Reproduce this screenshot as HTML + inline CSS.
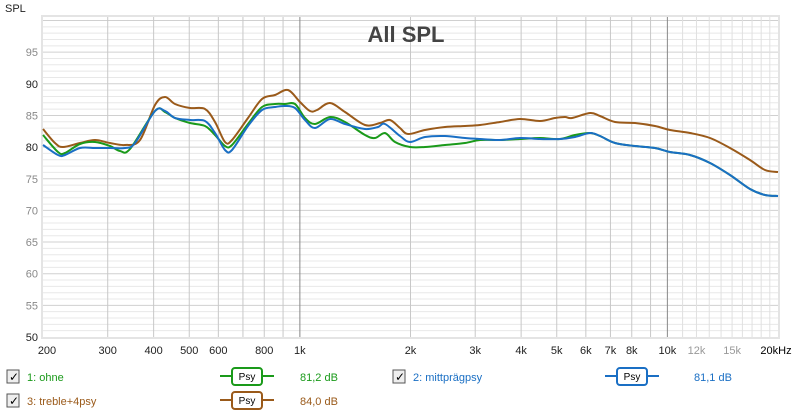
<!DOCTYPE html>
<html><head><meta charset="utf-8"><style>
body{margin:0;background:#fff;width:800px;height:415px;overflow:hidden;font-family:"Liberation Sans",sans-serif}
</style></head><body>
<svg id="s" width="800" height="415" xmlns="http://www.w3.org/2000/svg" font-family="Liberation Sans, sans-serif">
<rect x="0" y="0" width="800" height="415" fill="#fff"/>
<rect x="41" y="15" width="739" height="324" fill="#e4e4e4"/>
<rect x="43" y="17" width="735" height="320" fill="#fff"/>
<g id="grid"></g>
<text x="406" y="42" font-size="22" font-weight="bold" fill="#444" text-anchor="middle">All SPL</text>
<text x="5" y="12" font-size="11" fill="#222">SPL</text>
<g id="ylab" font-size="11" text-anchor="end"></g>
<g id="xlab" font-size="11" text-anchor="middle"></g>
<g id="curves" fill="none" stroke-width="2"></g>
<!-- legend -->
<g font-size="11">
<rect x="7" y="370" width="12" height="13" fill="#eee" stroke="#555"/><text x="9" y="381" font-size="12">✓</text>
<text x="27" y="381" fill="#1a9a1a">1: ohne</text>
<line x1="220" y1="376" x2="274" y2="376" stroke="#1a9a1a" stroke-width="2"/>
<rect x="232" y="368" width="30" height="17" rx="3" fill="#fff" stroke="#1a9a1a" stroke-width="2"/>
<text x="247" y="380" text-anchor="middle" font-size="10">Psy</text>
<text x="300" y="381" fill="#1a9a1a">81,2 dB</text>
<rect x="393" y="370" width="12" height="13" fill="#eee" stroke="#555"/><text x="395" y="381" font-size="12">✓</text>
<text x="413" y="381" fill="#1a6fc4">2: mittprägpsy</text>
<line x1="605" y1="376" x2="659" y2="376" stroke="#1a6fc4" stroke-width="2"/>
<rect x="617" y="368" width="30" height="17" rx="3" fill="#fff" stroke="#1a6fc4" stroke-width="2"/>
<text x="632" y="380" text-anchor="middle" font-size="10">Psy</text>
<text x="694" y="381" fill="#1a6fc4">81,1 dB</text>
<rect x="7" y="394" width="12" height="13" fill="#eee" stroke="#555"/><text x="9" y="405" font-size="12">✓</text>
<text x="27" y="405" fill="#9a5a1a">3: treble+4psy</text>
<line x1="220" y1="400" x2="274" y2="400" stroke="#9a5a1a" stroke-width="2"/>
<rect x="232" y="392" width="30" height="17" rx="3" fill="#fff" stroke="#9a5a1a" stroke-width="2"/>
<text x="247" y="404" text-anchor="middle" font-size="10">Psy</text>
<text x="300" y="405" fill="#9a5a1a">84,0 dB</text>
</g>
</svg>
<script>
var NS="http://www.w3.org/2000/svg";
function el(p,t,a,txt){var e=document.createElementNS(NS,t);for(var k in a)e.setAttribute(k,a[k]);if(txt)e.textContent=txt;document.getElementById(p).appendChild(e);}
var L=43,R=778,T=17,B=337;
function X(f){return L+(R-L)*Math.log10(f/200)/2;}
function Y(d){return 337-(d-50)*6.33;}
for(var d=51;d<=100;d++){var y=Y(d);if(y<T)break;el("grid","line",{x1:L,x2:R,y1:y,y2:y,stroke:d%5?"#e8e8e8":"#d0d0d0","stroke-width":1});}
var fs=[];for(var f=300;f<=900;f+=100)fs.push(f);for(f=1000;f<=10000;f+=1000)fs.push(f);for(f=11000;f<20000;f+=1000)fs.push(f);
fs.forEach(function(f){var x=X(f);var maj=(f==1000||f==10000);el("grid","line",{x1:x,x2:x,y1:T,y2:B,stroke:maj?"#888":(f>10000?"#e0e0e0":"#c8c8c8"),"stroke-width":1});});
for(d=50;d<=95;d+=5){el("ylab","text",{x:38,y:Y(d)+4,fill:(d==80||d==90||d==50)?"#222":"#888"},String(d));}
var xl=[[200,"200"],[300,"300"],[400,"400"],[500,"500"],[600,"600"],[800,"800"],[1000,"1k"],[2000,"2k"],[3000,"3k"],[4000,"4k"],[5000,"5k"],[6000,"6k"],[7000,"7k"],[8000,"8k"],[10000,"10k"],[12000,"12k"],[15000,"15k"]];
xl.forEach(function(a){var x=X(a[0]);if(a[0]==200)x=47;el("xlab","text",{x:x,y:354,fill:(a[0]==12000||a[0]==15000)?"#999":"#222"},a[1]);});
el("xlab","text",{x:776,y:354},"20kHz");
function path(p){var s="M"+p[0][0]+","+p[0][1];for(var i=0;i<p.length-1;i++){var p0=p[Math.max(i-1,0)],p1=p[i],p2=p[i+1],p3=p[Math.min(i+2,p.length-1)];
s+=" C"+(p1[0]+(p2[0]-p0[0])/6)+","+(p1[1]+(p2[1]-p0[1])/6)+" "+(p2[0]-(p3[0]-p1[0])/6)+","+(p2[1]-(p3[1]-p1[1])/6)+" "+p2[0]+","+p2[1];}return s;}
var brown=[[43,129],[55,143],[63,147],[80,143],[95,140],[110,143],[125,145],[140,140],[155,105],[165,97],[175,104],[190,108],[205,109],[215,122],[225,142],[232,140],[248,118],[262,99],[275,95],[288,90],[300,102],[310,111],[317,110],[330,103],[345,112],[365,125],[380,123],[390,120],[400,128],[408,134],[425,130],[445,127],[465,126],[480,125],[500,122],[520,119],[540,121],[555,118],[565,117],[572,118],[590,113],[600,116],[615,122],[635,123],[655,126],[670,130],[690,133],[710,138],[730,148],[750,160],[765,170],[778,172]];
var green=[[43,135],[58,152],[65,153],[80,144],[95,142],[110,146],[120,151],[130,149],[155,111],[165,112],[175,118],[190,123],[205,126],[215,135],[225,146],[232,145],[248,124],[262,107],[275,104],[285,104],[295,104],[305,118],[315,124],[330,117],[345,122],[365,135],[375,138],[385,133],[395,142],[410,147],[425,147],[445,145],[465,143],[480,140],[500,140],[520,139],[540,138],[560,139],[575,135],[590,133],[600,136],[615,143],[635,146],[655,148],[670,152],[690,155],[710,163],[730,175],[750,189],[765,195],[778,196]];
var blue=[[43,145],[58,155],[65,155],[80,148],[95,148],[110,148],[125,148],[135,143],[155,111],[165,111],[175,118],[190,120],[205,121],[215,133],[225,150],[232,150],[248,126],[262,110],[275,107],[285,106],[295,108],[305,120],[315,128],[330,119],[345,124],[365,129],[378,127],[385,124],[400,136],[410,142],[425,137],[445,136],[465,138],[480,139],[500,140],[520,138],[540,139],[560,139],[575,137],[590,133],[600,136],[615,143],[635,146],[655,148],[670,152],[690,155],[710,163],[730,175],[750,189],[765,195],[778,196]];
el("curves","path",{d:path(brown),stroke:"#9a5a1a"});
el("curves","path",{d:path(green),stroke:"#1a9a1a"});
el("curves","path",{d:path(blue),stroke:"#1a6fc4"});
</script>
</body></html>
